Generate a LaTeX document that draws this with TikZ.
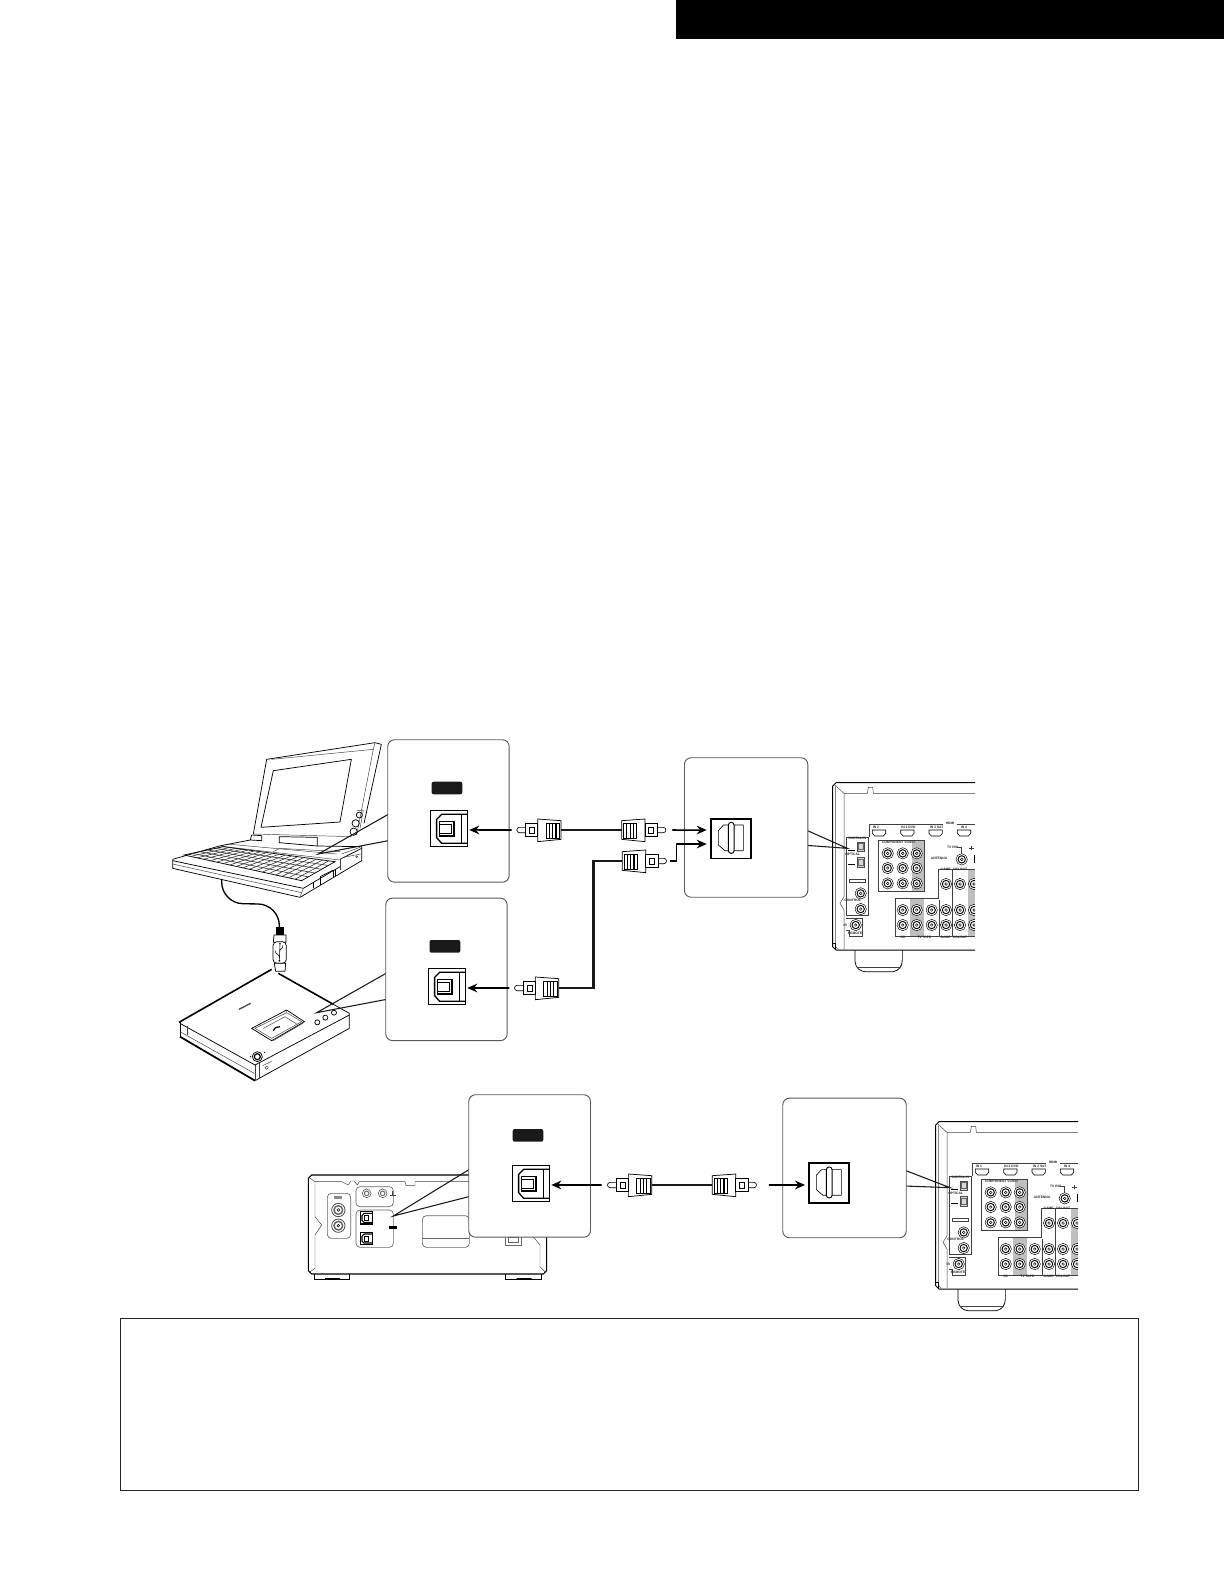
\documentclass[tikz,border=0pt]{standalone}
\usepackage{fontspec}
\setmainfont{Liberation Sans}
\usetikzlibrary{calc,arrows.meta}
\definecolor{panelgray}{gray}{0.35}
\definecolor{columngray}{gray}{0.75}
\newcommand{\RJack}[2]{%
  \draw[line width=.35pt,fill=white] (#1,#2) circle (17);
  \draw[line width=.7pt] (#1,#2) circle (11);
  \draw[line width=.35pt] (#1,#2) circle (4);
}
\newcommand{\HdmiPort}[1]{%
  \draw[line width=.45pt] (#1,270) -- (#1+40,270) -- (#1+40,280) -- (#1+33,288) -- (#1+7,288) -- (#1,280) -- cycle;
}
\tikzset{
  thinpart/.style={line width=.35pt,draw=black!75},
  midpart/.style={line width=.55pt,draw=black},
  heavypart/.style={line width=1.1pt,draw=black},
  panelbox/.style={draw=panelgray,fill=white,line width=.7pt,rounded corners=5pt,inner sep=0pt,anchor=north west},
  pointerline/.style={line width=.8pt,draw=black!90},
  sig/.style={line width=1.15pt,draw=black,-{Stealth[length=7.5pt,width=6.5pt]}},
  cablethick/.style={line width=1.8pt,draw=black!90},
  cablethin/.style={line width=1pt,draw=black!90},
  tiny/.style={font=\fontsize{2.5}{2.5}\selectfont\bfseries,inner sep=0pt,text=black!85},
  rcaplug/.pic={
    \begin{scope}[x=.25pt,y=-.25pt]
      \draw[line width=.5pt,fill=white] (107,-8) -- (125,-8) .. controls (135,-8) and (135,8) .. (125,8) -- (107,8);
      \draw[line width=.55pt,fill=white] (0,-28) -- (70,-33) -- (70,35) -- (0,28) -- cycle;
      \draw[line width=.65pt] (5,-20) rectangle (45,25);
      \foreach \s in {15,25,35}{\draw[line width=.8pt] (\s,-20) -- (\s,25);}
      \draw[line width=.65pt,fill=white] (70,-20) rectangle (107,20);
      \draw[line width=.55pt] (80,-8) rectangle (95,10);
      \coordinate (-cable) at (0,0);
      \coordinate (-tip) at (132,0);
    \end{scope}
  },
  optout/.pic={
    \begin{scope}[x=.25pt,y=-.25pt]
      \draw[line width=.9pt,fill=white] (0,0) rectangle (111,109);
      \draw[line width=1pt] (111,12) -- (34,12) -- (19,27) -- (19,82) -- (34,99) -- (111,99);
      \draw[line width=.55pt] (94,12) -- (94,99);
      \draw[line width=.9pt] (27,34) -- (71,34) -- (71,77) -- (27,77) -- cycle;
      \draw[line width=.4pt] (27,41) -- (64,41) -- (64,70) -- (27,70);
      \coordinate (-in) at (111,59);
    \end{scope}
  },
  optin/.pic={
    \begin{scope}[x=.25pt,y=-.25pt]
      \draw[line width=1.3pt,fill=white] (0,0) rectangle (121,119);
      \draw[line width=.5pt] (98,19) -- (38,19) -- (23,36) -- (23,79) -- (43,96) -- (98,96) -- cycle;
      \draw[line width=.7pt,fill=white,rounded corners=2pt] (53,11) rectangle (70,104);
      \coordinate (-a) at (0,34);
      \coordinate (-b) at (0,76);
      \coordinate (-c) at (0,65);
    \end{scope}
  },
  receiver/.pic={
    \begin{scope}[x=.25pt,y=-.25pt,shift={(-968,-128)}]
      \clip (960,120) rectangle (1395,705);
      % chassis
      \draw[line width=.7pt] (1395,128) -- (978,128) -- (968,138) -- (968,620) -- (978,630) -- (1395,630);
      \draw[thinpart] (1395,160) -- (1090,160) -- (1088,142) -- (1075,142) -- (1072,160) -- (1002,160) -- (1002,470) -- (990,490) -- (1002,510) -- (1002,628);
      \draw[thinpart] (973,134) -- (1002,160);
      \draw[thinpart] (976,140) -- (976,620) -- (985,628);
      \draw[line width=.7pt] (968,610) -- (975,610) -- (975,628);
      % foot
      \draw[midpart] (1035,630) -- (1035,665) .. controls (1037,685) and (1050,693) .. (1065,695) -- (1150,695) .. controls (1168,690) and (1176,680) .. (1177,660) -- (1177,630);
      \draw[thinpart] (1042,682) -- (1170,682);
      % HDMI row
      \draw[thinpart] (1078,292) -- (1078,252) -- (1300,252);
      \draw[thinpart] (1340,252) -- (1395,252);
      \node[tiny] (hdmilabel) at (1320,251) {HDMI};
      \foreach \h in {1087,1172,1257,1342}{\HdmiPort{\h}}
      \node[tiny] (hdmione) at (1098,263) {IN 1};
      \node[tiny] (hdmitwo) at (1195,263) {IN 2 DVD};
      \node[tiny] (hdmithree) at (1280,263) {IN 3 SAT};
      \node[tiny] (hdmifour) at (1362,263) {IN 4};
      % digital in
      \draw[thinpart] (1008,292) -- (1075,292) -- (1075,527) -- (1008,527) -- cycle;
      \node[tiny] (digitalin) at (1042,296) {DIGITAL IN};
      \node[tiny] (opticallabel) at (1028,344) {OPTICAL};
      \foreach \v in {305,352}{
        \draw[line width=.3pt,draw=black!70,fill=black!15] (1040,\v) rectangle (1063,\v+28);
        \draw[line width=.2pt,draw=black!60] (1045,\v+5) rectangle (1058,\v+22);
      }
      \draw[line width=.6pt] (1015,330) -- (1035,330);
      \draw[line width=.6pt] (1015,372) -- (1035,372);
      \draw[thinpart,fill=white] (1017,417) rectangle (1065,427);
      \RJack{1052}{460}
      \RJack{1052}{507}
      \node[tiny] (controllabel) at (1028,482) {CONTROL};
      % remote
      \draw[thinpart] (1008,535) -- (1058,535) -- (1058,588) -- (1018,588) -- (1018,570) -- (1008,570);
      \RJack{1037}{555}
      \node[tiny] (remotelabel) at (1035,580) {REMOTE};
      \node[tiny] (irlabel) at (1006,555) {IR};
      % component
      \fill[columngray] (1205,300) rectangle (1242,455);
      \draw[thinpart] (1105,300) rectangle (1242,455);
      \node[tiny,align=center] (complabel) at (1165,307) {COMPONENT VIDEO};
      \foreach \cx in {1133,1178,1220}{\foreach \cy in {340,384,430}{\RJack{\cx}{\cy}}}
      % antenna
      \node[tiny] (antennalabel) at (1287,355) {ANTENNA};
      \node[tiny] (tvlabel) at (1328,322) {TV ROI};
      \RJack{1355}{358}
      \draw[thinpart] (1342,322) -- (1355,322) -- (1355,342);
      \draw[thinpart] (1385,330) -- (1385,318) (1378,325) -- (1392,325);
      \draw[line width=.8pt] (1393,345) -- (1393,370);
      % audio block
      \fill[columngray] (1200,478) rectangle (1243,588);
      \fill[columngray] (1373,390) rectangle (1395,588);
      \draw[thinpart] (1155,588) -- (1155,475) -- (1285,475) -- (1285,388) -- (1395,388);
      \draw[thinpart] (1155,588) -- (1395,588);
      \draw[thinpart] (1328,388) -- (1328,588);
      \draw[thinpart] (1287,588) -- (1287,480);
      \foreach \cx in {1178,1220,1265,1308,1350,1392}{\foreach \cy in {510,555}{\RJack{\cx}{\cy}}}
      \foreach \cx in {1308,1350,1392}{\RJack{\cx}{432}}
      \node[tiny] (cdlabel) at (1178,593) {CD};
      \node[tiny] (tapelabel) at (1243,593) {TV TAPE};
      \node[tiny] (gamelabel) at (1307,593) {GAME};
      \node[tiny] (cbllabel) at (1350,593) {CBL/SAT};
      \node[tiny] (gametop) at (1307,388) {GAME};
      \node[tiny] (cbltop) at (1350,388) {CBL/SAT};
    \end{scope}
  }
}
\begin{document}
\begin{tikzpicture}[x=.75pt,y=-.75pt]
\useasboundingbox (0,0) rectangle (1224,1584);

% header bar and note box
\fill[black] (676,0) rectangle (1224,39);
\node[draw=black!85,fill=none,line width=.7pt,inner sep=0pt,anchor=north west,minimum width=763.2pt,minimum height=129pt] (notebox) at (120.3,1318) {};

%% ---------- laptop (coordinates of a 3x crop at 160,720)
\begin{scope}[shift={(160,720)},x=.25pt,y=-.25pt]
  \coordinate (lapOut) at (185,478);
  \coordinate (usbIn) at (358,622);
  % lid
  \draw[midpart] (280,342) -- (320,118) -- (645,68) -- (664,73) -- (612,310);
  \draw[thinpart] (335,118) -- (640,88) -- (590,345);
  \draw[thinpart] (640,88) -- (645,68);
  \draw[midpart] (340,152) -- (574,118) -- (540,306) -- (303,322) -- cycle;
  \draw[thinpart] (280,342) -- (575,350);
  \foreach \bx/\by/\br in {598/285/9,587/310/11,581/335/11}{\draw[midpart] (\bx,\by) circle (\br);}
  \draw[thinpart] (590,272) -- (610,270) -- (600,325);
  % hinges
  \draw[midpart] (275,345) -- (305,347) -- (305,362) -- (271,360) -- cycle;
  \draw[midpart] (358,350) -- (472,352) -- (472,378) -- (358,368) -- cycle;
  % base
  \draw[midpart] (38,418) -- (178,378) -- (271,360);
  \draw[midpart] (38,418) -- (38,445) -- (420,532) -- (605,422) -- (605,380) -- (472,378);
  \draw[midpart] (38,422) -- (430,505) -- (540,440);
  \draw[thinpart] (38,432) -- (425,518);
  \draw[thinpart] (430,505) -- (420,532);
  \draw[thinpart] (178,378) -- (540,420);
  \draw[thinpart] (200,372) -- (530,402);
  \draw[thinpart] (340,395) -- (360,385) -- (540,395);
  \draw[midpart] (540,418) -- (605,385);
  \draw[thinpart] (540,418) -- (540,450);
  \draw[thinpart] (545,402) -- (600,382) (550,412) -- (602,402);
  \draw[thinpart,fill=black!15] (590,410) circle (3);
  \draw[midpart] (460,485) -- (460,505);
  \draw[midpart] (482,472) -- (482,495);
  \draw[midpart] (480,470) -- (520,450);
  \draw[midpart] (520,450) -- (520,470) (526,448) -- (526,468);
  % keyboard
  \coordinate (K1) at (72,405);
  \coordinate (K2) at (190,380);
  \coordinate (K3) at (525,425);
  \coordinate (K4) at (425,482);
  \draw[midpart] (K1) -- (K2) -- (K3) -- (K4) -- cycle;
  \foreach \r in {1,...,4}{\draw[line width=.45pt,draw=black!80] ($(K1)!\r/5!(K2)$) -- ($(K4)!\r/5!(K3)$);}
  \foreach \q in {1,...,17}{\draw[line width=.45pt,draw=black!80] ($(K1)!\q/18!(K4)$) -- ($(K2)!\q/18!(K3)$);}
  % usb cable and plug
  \draw[line width=1pt,rounded corners=16pt] (lapOut) -- (185,550) -- (358,553) -- (usbIn);
  \fill[black] (349,620) rectangle (373,645);
  \draw[midpart,fill=white] (342,645) -- (378,645) -- (378,667) -- (340,667) -- cycle;
  \draw[midpart,fill=white,rounded corners=3pt] (339,665) -- (379,665) -- (379,730) -- (339,730) -- cycle;
  \draw[midpart,fill=white] (343,730) -- (377,730) -- (375,754) -- (347,754) -- cycle;
  \draw[line width=.45pt] (360,672) -- (358,722) (360,690) -- (368,682) -- (368,676) (358,708) -- (347,698) -- (347,692);
  \fill (360,670) circle (2.5) (358,722) circle (3);
  %% ---------- dock device
  \draw[midpart] (60,910) -- (285,1035) -- (568,885);
  \draw[line width=1.2pt] (57,907) -- (335,748);
  \draw[line width=1.2pt] (355,760) -- (520,853);
  \draw[midpart] (520,853) -- (568,880) -- (568,925) -- (285,1082);
  \draw[midpart] (60,905) -- (60,952);
  \draw[line width=1.3pt] (60,950) -- (285,1082);
  \draw[thinpart] (285,1035) -- (285,1082);
  \draw[thinpart] (60,935) -- (283,1060);
  \draw[thinpart] (82,918) -- (82,945);
  \draw[thinpart] (298,1030) -- (298,1075);
  \draw[midpart] (275,925) -- (380,870) -- (433,905) -- (335,962) -- cycle;
  \draw[thinpart] (285,925) -- (380,878) -- (425,905) -- (335,955) -- cycle;
  \draw[thinpart] (310,925) -- (375,890) -- (410,912);
  \draw[thinpart] (380,870) -- (380,878) (433,905) -- (425,912) -- (340,962);
  \draw[line width=.9pt] (340,932) .. controls (345,922) and (350,920) .. (360,920);
  \foreach \bx/\by in {472/907,496/893,522/878}{\draw[midpart] (\bx,\by) circle (7.5);}
  \draw[midpart] (292,1010) circle (15);
  \draw[line width=.9pt] (292,1010) circle (9);
  \draw[line width=1pt,draw=black!70] (237,868) -- (272,850);
  \draw[thinpart] (308,1037) -- (335,1024);
  \draw[thinpart] (320,1043) circle (5);
  \fill (272,1010) circle (1.8) (314,997) circle (1.8);
\end{scope}

%% ---------- rear-view unit (coordinates of a 3x crop at 300,1085)
\begin{scope}[shift={(300,1085)},x=.25pt,y=-.25pt]
  \draw[line width=.8pt] (510,270) -- (35,270) -- (25,280) -- (25,557) -- (35,567) -- (730,567) -- (740,557) -- (740,440);
  \draw[thinpart] (510,290) -- (345,290) -- (345,302) -- (318,302) -- (315,290) -- (178,290) -- (172,300) -- (162,288) -- (152,288) -- (145,300) -- (125,290) -- (45,290) -- (28,278);
  \draw[thinpart] (45,290) -- (45,395) -- (65,420) -- (45,450) -- (45,550) -- (28,562);
  \draw[thinpart] (700,455) -- (720,480) -- (720,545) -- (737,562);
  \draw[line width=.5pt,draw=black!60,rounded corners=3pt] (82,325) rectangle (152,460);
  \draw[line width=.5pt,draw=black!60,rounded corners=3pt] (168,305) rectangle (280,365);
  \draw[line width=.5pt,draw=black!60,rounded corners=3pt] (168,375) rectangle (280,487);
  \draw[line width=.5pt,draw=black!60,rounded corners=3pt] (367,392) rectangle (508,487);
  \draw[line width=.5pt,draw=black!60] (367,460) -- (508,460);
  \fill[black!45] (103,333) rectangle (125,342);
  \foreach \jy in {375,422}{
    \draw[line width=.6pt,draw=black!70] (115,\jy) circle (20);
    \draw[line width=1.1pt,draw=black!60] (115,\jy) circle (13);
    \draw[line width=.4pt] (115,\jy) circle (4);
  }
  \foreach \jx in {200,248}{
    \draw[line width=.5pt,draw=black!60] (\jx,325) circle (13);
    \draw[line width=.7pt,draw=black!60] (\jx,325) circle (7);
  }
  \draw[thinpart] (270,330) -- (288,330) (278,330) -- (278,318);
  \foreach \oy in {380,442}{
    \draw[line width=1.1pt] (182,\oy) rectangle (218,\oy+37);
    \draw[line width=.8pt] (216,\oy+5) -- (192,\oy+5) -- (186,\oy+12) -- (186,\oy+26) -- (192,\oy+32) -- (216,\oy+32);
    \draw[line width=.4pt] (192,\oy+11) rectangle (206,\oy+26);
  }
  \fill[black] (268,424) rectangle (292,433);
  \draw[line width=.5pt,draw=black!60] (617,455) rectangle (665,480);
  \draw[line width=.5pt,draw=black!60] (626,458) rectangle (656,472);
  \draw[midpart] (42,567) -- (42,582) -- (148,582) -- (148,567);
  \draw[midpart] (617,567) -- (617,582) -- (725,582) -- (725,567);
  \fill (75,579) rectangle (120,583) (650,579) rectangle (695,583);
  \coordinate (rearTip) at (280,393);
  \coordinate (rearA) at (510,252);
  \coordinate (rearB) at (510,334);
\end{scope}

%% ---------- receivers
\pic (rxTop) at (832.7,782.7) {receiver};
\pic (rxBot) at (935.7,1121.7) {receiver};

%% ---------- callout pointers
\begin{scope}[shift={(160,720)},x=.25pt,y=-.25pt]
  \coordinate (lapTip) at (475,402);
  \coordinate (lapA) at (685,283);
  \coordinate (lapB) at (685,362);
  \coordinate (dockTip) at (470,878);
  \coordinate (dockA) at (680,759);
  \coordinate (dockB) at (680,838);
\end{scope}
\begin{scope}[shift={(510,740)},x=.25pt,y=-.25pt]
  \coordinate (rxTipA) at (1012,325);
  \coordinate (rxCa) at (888,270);
  \coordinate (rxCb) at (888,316);
\end{scope}
\begin{scope}[shift={(770,1090)},x=.25pt,y=-.25pt]
  \coordinate (rxTipB) at (540,293);
  \coordinate (rxEa) at (403,240);
  \coordinate (rxEb) at (403,288);
\end{scope}
\draw[pointerline] (lapA) -- (lapTip) -- (lapB);
\draw[pointerline] (dockA) -- (dockTip) -- (dockB);
\draw[pointerline] (rxCa) -- (rxTipA) -- (rxCb);
\draw[pointerline] (rxEa) -- (rxTipB) -- (rxEb);
\draw[pointerline] (rearA) -- (rearTip) -- (rearB);

%% ---------- panels
\node[panelbox,minimum width=91.05pt,minimum height=106.8pt] (panelA) at (387.3,739.3) {};
\node[panelbox,minimum width=91.05pt,minimum height=106.8pt] (panelB) at (385.3,897.7) {};
\node[panelbox,minimum width=92.5pt,minimum height=104.6pt] (panelC) at (684,757.3) {};
\node[panelbox,minimum width=91.3pt,minimum height=106.8pt] (panelD) at (468.3,1094.3) {};
\node[panelbox,minimum width=92.6pt,minimum height=104.7pt] (panelE) at (782.3,1097.7) {};

%% ---------- blacked-out labels
\fill[black!90,rounded corners=1.5pt] (431.7,781.7) rectangle (462.3,794.3);
\fill[black!90,rounded corners=1.5pt] (429.5,940) rectangle (460.3,952.7);
\fill[black!90,rounded corners=1.5pt] (512.7,1129) rectangle (543.3,1141.7);

%% ---------- ports
\pic (portA) at (430.3,810.3) {optout};
\pic (portB) at (428.3,968.3) {optout};
\pic (portD) at (512.3,1165.3) {optout};
\pic (portC) at (710.7,818.7) {optin};
\pic (portE) at (808.7,1163.3) {optin};

%% ---------- plugs
\pic[xscale=-1] (p1) at (561,830) {rcaplug};
\pic (p2) at (621.7,830) {rcaplug};
\pic (p3) at (622.3,861) {rcaplug};
\pic[xscale=-1] (p4) at (558.7,988) {rcaplug};
\pic[xscale=-1] (p5) at (651.7,1185) {rcaplug};
\pic (p6) at (712.3,1185) {rcaplug};

%% ---------- cables
\coordinate (cableBend) at (593.3,861);
\coordinate (cableFoot) at (593.3,988);
\draw[cablethick] (p1-cable) -- (p2-cable);
\draw[cablethick] (p3-cable) -- (cableBend) -- (cableFoot) -- (p4-cable);
\draw[cablethin] (p5-cable) -- (p6-cable);

%% ---------- signal arrows
\draw[sig,shorten <=4pt,shorten >=1.5pt] (p1-tip) -- (portA-in);
\draw[sig,shorten <=4pt,shorten >=1.5pt] (p4-tip) -- (portB-in);
\draw[sig,shorten <=4.5pt,shorten >=1.5pt] (p5-tip) -- (portD-in);
\draw[sig,shorten <=5pt,shorten >=3pt] (p2-tip) -- (portC-a);
\coordinate (bendIn) at (676.7,861);
\draw[sig,shorten <=3pt,shorten >=3pt] (p3-tip) -- (bendIn) |- (portC-b);
\draw[sig,shorten <=9.5pt,shorten >=2.7pt] (p6-tip) -- (portE-c);
\end{tikzpicture}
\end{document}
